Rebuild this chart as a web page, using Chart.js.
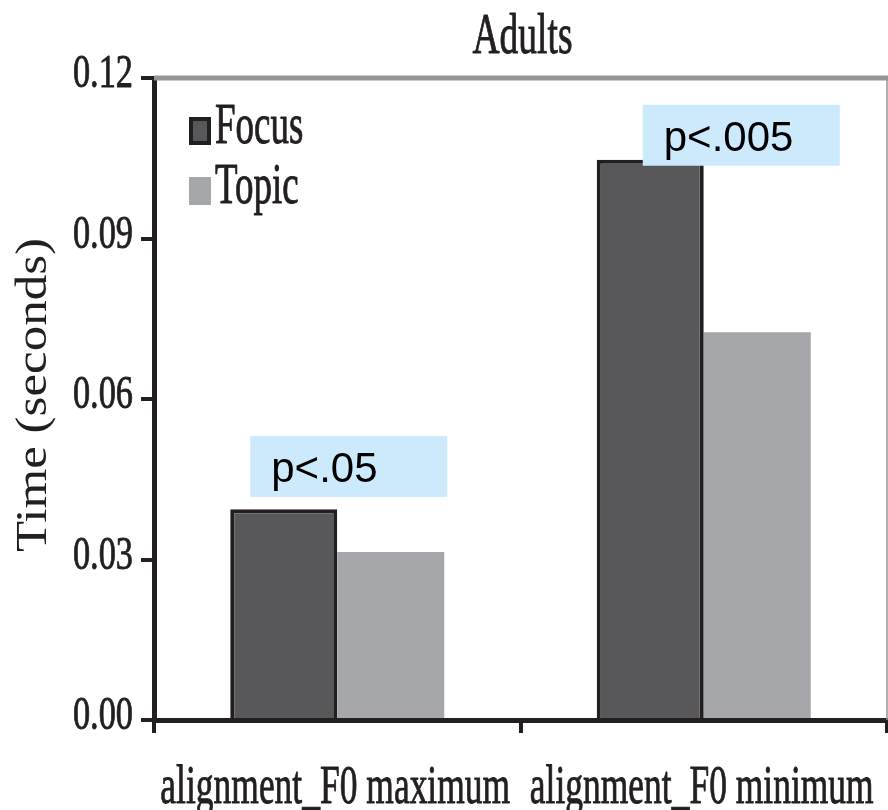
<!DOCTYPE html>
<html>
<head>
<meta charset="utf-8">
<script src="https://cdn.jsdelivr.net/npm/chart.js@4.4.1/dist/chart.umd.min.js"></script>
<style>
  html, body { margin: 0; padding: 0; background: #ffffff; }
  canvas { display: block; }
</style>
</head>
<body>
<canvas id="chart" width="888" height="810"></canvas>
<script>
// ---- data ----
const chartTitle = 'Adults';
const categories = ['alignment_F0 maximum', 'alignment_F0 minimum'];
const seriesNames = ['Focus', 'Topic'];
const focusValues = [0.0394, 0.1047];
const topicValues = [0.0314, 0.0725];
const yTickLabels = ['0.00', '0.03', '0.06', '0.09', '0.12'];
const yAxisTitle = 'Time (seconds)';
const pLabels = ['p<.05', 'p<.005'];

// ---- styling ----
const INK = '#231f20';
const FRAME_GRAY = '#939598';
const FOCUS_FILL = '#58585a';
const TOPIC_FILL = '#a6a7aa';
const NOTE_FILL = '#cdeafc';
const SERIF = '"Liberation Serif", "Times New Roman", serif';
const SANS = '"Liberation Sans", Arial, sans-serif';

// where each significance note sits: bottom edge in data units, offset from the category centre
const notePlacement = [
  { bottom: 0.0417, dx: -87 },
  { bottom: 0.1036, dx: -61 }
];

// narrow, slightly heavy serif text
function squeezedText(ctx, text, x, y, font, sx, align, sy) {
  ctx.save();
  ctx.font = font;
  ctx.fillStyle = INK;
  ctx.strokeStyle = INK;
  ctx.lineWidth = 0.9;
  ctx.lineJoin = 'round';
  ctx.textAlign = align;
  ctx.textBaseline = 'alphabetic';
  ctx.translate(x, y);
  ctx.scale(sx, sy || 1);
  ctx.fillText(text, 0, 0);
  ctx.strokeText(text, 0, 0);
  ctx.restore();
}

// grey top and right edges of the plot frame
const framePlugin = {
  id: 'frame',
  beforeDatasetsDraw(chart) {
    const { ctx, chartArea: a } = chart;
    ctx.save();
    ctx.strokeStyle = FRAME_GRAY;
    ctx.lineWidth = 5;
    ctx.beginPath();
    ctx.moveTo(a.left, a.top);
    ctx.lineTo(a.right + 1, a.top);
    ctx.stroke();
    ctx.lineWidth = 1.5;
    ctx.beginPath();
    ctx.moveTo(a.right, a.top);
    ctx.lineTo(a.right, a.bottom);
    ctx.stroke();
    ctx.restore();
  }
};

// p-value notes over the bars
const notesPlugin = {
  id: 'notes',
  afterDatasetsDraw(chart) {
    const { ctx, scales: { x, y } } = chart;
    pLabels.forEach((label, i) => {
      const p = notePlacement[i];
      const left = x.getPixelForValue(i) + p.dx;
      const bottom = y.getPixelForValue(p.bottom);
      const w = 197, h = 61;
      const top = bottom - h;
      ctx.save();
      ctx.fillStyle = NOTE_FILL;
      ctx.fillRect(left, top, w, h);
      ctx.fillStyle = '#000000';
      ctx.font = '42px ' + SANS;
      ctx.textAlign = 'left';
      ctx.textBaseline = 'alphabetic';
      ctx.fillText(label, left + 21, top + 46);
      ctx.restore();
    });
  }
};

// title, tick labels, axis title, category labels and legend
const textPlugin = {
  id: 'texts',
  afterDraw(chart) {
    const { ctx, chartArea: a, scales: { x, y } } = chart;

    squeezedText(ctx, chartTitle, (a.left + a.right) / 2 + 2, 53, '56px ' + SERIF, 0.67, 'center');

    yTickLabels.forEach(lbl => {
      const py = y.getPixelForValue(Number(lbl));
      squeezedText(ctx, lbl, a.left - 21, py + 9, '47px ' + SERIF, 0.73, 'right');
    });

    categories.forEach((cat, i) => {
      squeezedText(ctx, cat, x.getPixelForValue(i) - 2, 803, '55px ' + SERIF, 0.645, 'center');
    });

    // rotated axis title
    ctx.save();
    ctx.font = '51px ' + SERIF;
    ctx.fillStyle = INK;
    ctx.textAlign = 'center';
    ctx.textBaseline = 'alphabetic';
    ctx.translate(46, (a.top + a.bottom) / 2 - 4);
    ctx.rotate(-Math.PI / 2);
    ctx.scale(1, 0.85);
    ctx.fillText(yAxisTitle, 0, 0);
    ctx.restore();

    // legend
    const ds = chart.data.datasets;
    const lx = a.left + 35;
    const rows = [a.top + 39, a.top + 99];
    ds.forEach((d, i) => {
      const top = rows[i];
      ctx.save();
      ctx.fillStyle = d.backgroundColor;
      ctx.fillRect(lx, top, 22, 28);
      if (d.borderWidth) {
        ctx.strokeStyle = d.borderColor;
        ctx.lineWidth = 4;
        ctx.strokeRect(lx + 2, top + 2, 18, 24);
      }
      ctx.restore();
      squeezedText(ctx, d.label, lx + 26, top + 26, '56px ' + SERIF, 0.66, 'left');
    });
  }
};

new Chart(document.getElementById('chart'), {
  type: 'bar',
  data: {
    labels: categories,
    datasets: [
      {
        label: seriesNames[0],
        data: focusValues,
        backgroundColor: FOCUS_FILL,
        borderColor: INK,
        borderWidth: 4,
        borderSkipped: 'start'
      },
      {
        label: seriesNames[1],
        data: topicValues,
        backgroundColor: TOPIC_FILL,
        borderWidth: 0
      }
    ]
  },
  options: {
    responsive: false,
    animation: false,
    events: [],
    devicePixelRatio: 1,
    layout: { padding: { left: 141, right: 1, top: 78, bottom: 77 } },
    datasets: { bar: { categoryPercentage: 0.584, barPercentage: 1 } },
    plugins: {
      legend: { display: false },
      title: { display: false },
      tooltip: { enabled: false }
    },
    scales: {
      x: {
        z: 1,
        offset: true,
        ticks: { display: false },
        grid: {
          offset: true,
          drawOnChartArea: false,
          drawTicks: true,
          tickLength: 13,
          lineWidth: 4,
          color: INK
        },
        border: { display: true, width: 5, color: INK }
      },
      y: {
        z: 1,
        min: 0,
        max: 0.12,
        ticks: { display: false, stepSize: 0.03 },
        grid: {
          drawOnChartArea: false,
          drawTicks: true,
          tickLength: 13,
          lineWidth: 4,
          color: INK
        },
        border: { display: true, width: 5, color: INK }
      }
    }
  },
  plugins: [framePlugin, notesPlugin, textPlugin]
});
</script>
</body>
</html>
